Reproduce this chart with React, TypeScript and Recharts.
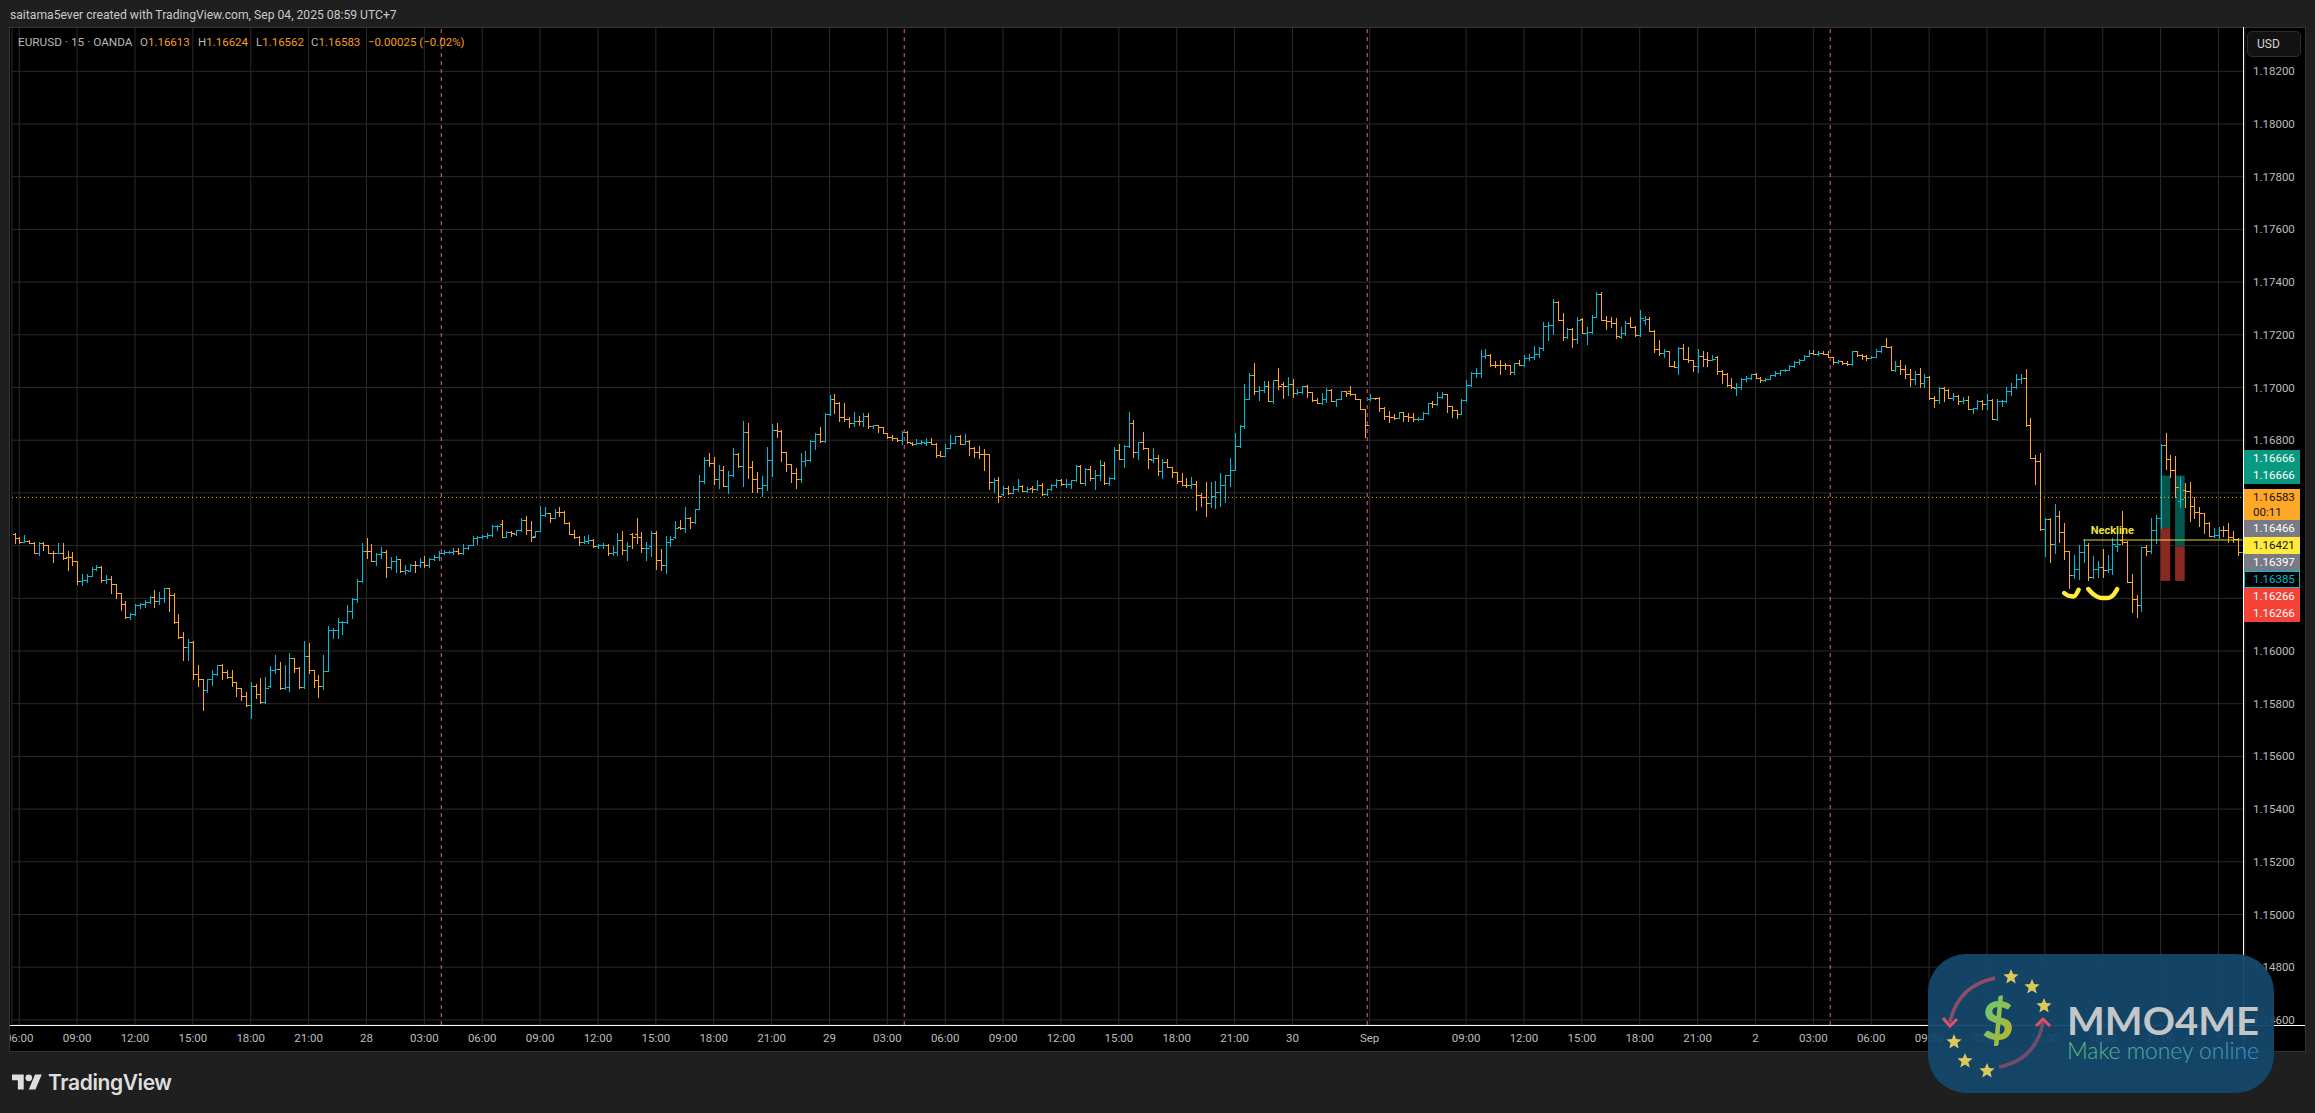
import React from 'react';
import { ComposedChart, Bar, Line, XAxis, YAxis, CartesianGrid, ReferenceLine, ReferenceArea, ReferenceDot } from 'recharts';

// All prices are points above 1.16000 (1 point = 0.00001)
const BASE_PRICE = 1.16;
const opens = [
445,430,415,416,411,373,411,402,373,371,373,358,357,340,264,268,284,312,318,268,273,253,219,177,128,140,175,177,186,205,189,200,238,212,109,53,16,36,-89,-106,
-149,-108,-89,-53,-81,-98,-118,-141,-170,-204,-132,-162,-194,-134,-71,-67,-142,-137,-27,-63,-138,-18,-72,-110,-133,-76,79,80,109,110,153,197,264,381,380,343,367,375,317,340,
348,304,304,327,326,336,327,351,355,373,376,377,378,370,391,404,430,434,435,439,474,481,433,452,443,459,499,460,437,455,517,523,506,528,527,484,443,434,414,419,
420,400,401,404,370,377,423,385,443,443,434,389,398,449,347,326,415,433,472,465,503,489,540,644,725,715,653,686,626,668,748,702,830,698,654,619,630,726,838,835,
754,708,677,654,720,725,798,823,796,899,955,943,889,882,864,874,872,891,852,857,849,828,811,808,799,832,789,786,790,790,793,787,744,741,772,791,815,787,798,772,
756,748,747,640,649,594,619,600,615,628,607,618,615,629,594,614,630,650,632,634,649,703,638,692,655,669,707,639,655,762,729,778,864,757,792,771,726,733,684,718,
699,680,645,631,630,633,591,583,562,590,604,629,669,688,777,855,958,1046,987,991,1007,947,1028,1012,1007,1015,978,981,1006,982,952,941,955,991,950,958,985,985,975,957,
917,957,961,961,924,892,889,885,907,890,887,879,882,902,942,936,965,975,929,913,900,951,1009,1055,1056,1118,1124,1087,1087,1086,1085,1059,1093,1085,1111,1115,1126,1148,1235,1236,
1326,1257,1192,1223,1184,1260,1207,1212,1269,1354,1257,1251,1246,1191,1207,1246,1231,1198,1258,1260,1216,1147,1130,1138,1081,1079,1148,1109,1103,1081,1121,1110,1106,1116,1064,1053,1008,999,1001,1033,
1035,1052,1037,1027,1033,1046,1056,1065,1067,1080,1096,1106,1121,1131,1129,1131,1129,1115,1095,1099,1094,1088,1137,1125,1121,1113,1116,1137,1158,1154,1067,1081,1069,1050,1033,1050,1016,1041,959,954,
998,991,962,968,948,953,918,921,950,938,954,879,947,948,987,1000,1032,1035,857,731,722,463,501,406,513,450,380,288,312,377,402,282,312,320,307,310,398,421,413,262,
197,173,393,380,461,503,782,727,687,570,610,608,550,527,522,487,437,439,461,459,434,424,377];
const highs = [
449,431,439,423,412,415,415,403,379,409,409,379,375,341,292,294,319,328,321,288,284,254,220,189,143,177,181,194,207,231,223,238,239,219,141,72,45,38,-55,-105,
-107,-71,-52,-48,-71,-72,-117,-140,-156,-117,-127,-101,-97,-58,-14,-42,-55,-8,-25,-62,39,30,-71,-93,-14,94,88,124,112,173,200,275,410,428,407,370,396,382,355,360,
349,326,329,343,352,360,353,366,380,385,380,389,389,405,404,438,435,439,449,477,477,499,457,454,460,503,511,492,457,552,545,524,540,548,532,491,460,435,438,442,
424,406,411,405,398,447,454,414,449,503,450,414,454,457,386,435,437,492,496,547,509,540,668,736,751,736,707,702,684,771,751,873,865,722,681,665,774,862,865,839,
756,711,696,752,759,799,826,849,902,971,975,946,940,887,906,893,902,903,858,858,850,829,820,810,835,833,793,805,801,808,808,788,759,786,819,816,820,824,799,776,
777,767,748,657,662,628,628,626,653,629,621,626,649,638,616,633,651,653,653,650,705,704,694,702,685,724,719,660,775,785,781,906,877,794,831,772,770,744,728,728,
700,681,675,656,660,645,600,643,643,645,675,669,733,828,856,1012,1054,1092,1005,1024,1024,1030,1073,1020,1039,1033,996,1007,1011,983,961,978,997,994,958,987,987,1007,976,958,
918,976,962,963,927,909,899,908,908,903,904,887,906,943,948,982,982,976,931,915,958,1030,1058,1074,1141,1145,1127,1099,1106,1092,1087,1094,1106,1123,1129,1159,1155,1248,1248,1335,
1329,1282,1227,1225,1267,1264,1230,1274,1364,1364,1270,1266,1264,1230,1251,1269,1232,1295,1270,1267,1217,1181,1147,1139,1100,1154,1165,1155,1104,1147,1138,1135,1125,1121,1065,1054,1035,1018,1036,1043,
1053,1056,1040,1036,1047,1062,1067,1069,1084,1100,1108,1124,1144,1142,1140,1138,1138,1116,1104,1100,1100,1140,1139,1129,1125,1119,1147,1159,1186,1157,1099,1103,1084,1069,1061,1075,1053,1043,968,1001,
1001,996,978,973,963,968,924,952,952,977,955,958,953,1003,1016,1053,1050,1069,883,744,750,503,506,558,532,487,381,364,402,424,408,360,343,386,364,427,465,531,418,291,
212,396,402,503,516,784,826,744,739,661,636,640,585,548,523,488,465,472,475,484,456,427,386];
const lows = [
410,411,412,410,372,365,382,372,337,370,350,308,327,255,251,263,284,307,263,257,221,201,157,127,122,137,163,168,182,168,180,185,150,108,51,-35,-33,-105,-133,-225,
-154,-128,-92,-105,-102,-133,-169,-186,-209,-254,-177,-196,-196,-136,-83,-146,-146,-152,-78,-141,-142,-84,-138,-176,-146,-73,48,51,65,105,126,187,260,352,340,326,353,280,311,300,
299,293,302,301,319,317,318,347,345,367,371,367,367,368,387,403,405,429,428,437,458,433,431,437,442,455,443,418,434,454,514,489,504,514,484,443,429,403,411,411,
395,390,389,364,365,366,367,346,390,409,374,346,361,311,306,297,399,430,462,452,467,484,537,638,701,632,620,625,599,665,697,628,658,605,605,590,610,665,811,720,
683,640,618,640,703,722,767,795,795,896,904,871,873,850,854,857,854,848,847,830,826,810,801,796,784,790,780,785,785,782,784,738,739,740,771,791,785,785,745,736,
731,686,613,603,565,592,595,598,606,606,605,605,610,592,591,612,621,629,621,619,646,636,631,650,616,650,635,631,653,728,699,776,738,729,767,694,719,668,655,698,
660,638,631,621,617,534,549,512,546,542,549,565,625,685,775,848,955,975,953,984,947,940,996,961,971,963,975,979,963,950,940,938,946,948,931,957,968,971,957,917,
814,952,958,912,879,870,879,883,874,873,873,877,879,899,926,933,961,908,888,884,899,950,1007,1040,1040,1112,1083,1078,1051,1072,1053,1050,1084,1083,1106,1109,1114,1144,1179,1203,
1255,1181,1187,1155,1169,1207,1164,1207,1266,1256,1223,1230,1189,1187,1198,1230,1196,1196,1241,1215,1134,1125,1115,1080,1077,1053,1109,1096,1061,1060,1081,1081,1103,1051,1016,1006,999,970,996,1025,
1031,1035,1021,1025,1031,1045,1048,1064,1066,1079,1090,1104,1120,1129,1124,1128,1114,1089,1092,1090,1085,1084,1121,1109,1104,1111,1114,1134,1152,1066,1064,1052,1037,1006,1012,1002,1002,958,926,940,
949,960,953,939,940,918,904,919,920,920,880,876,930,945,970,998,1018,855,731,634,459,360,339,370,415,351,240,276,274,339,270,276,279,279,301,294,380,406,260,149,
130,153,364,370,408,465,689,661,585,547,547,494,503,474,446,436,434,427,436,415,415,364,355];
const closes = [
430,415,416,411,373,411,402,373,371,373,353,357,340,264,268,284,312,318,268,273,253,219,177,128,142,175,177,186,205,189,200,238,212,109,53,16,36,-89,-106,-149,
-108,-89,-53,-81,-98,-118,-141,-170,-204,-132,-162,-194,-140,-71,-67,-142,-137,-27,-63,-138,-18,-72,-110,-133,-76,79,80,109,110,153,197,264,381,380,343,367,375,317,340,348,
304,306,327,326,336,327,351,355,373,376,377,378,370,391,404,430,434,435,439,474,475,433,452,447,459,499,460,433,455,517,523,506,528,527,484,443,434,414,419,420,
400,401,404,370,377,423,385,398,434,434,389,392,449,347,326,415,426,468,465,503,489,540,644,725,715,653,686,626,668,748,702,830,698,654,619,630,726,838,835,754,
708,677,654,720,725,798,823,796,899,955,943,889,882,864,874,872,891,852,857,849,828,811,808,799,832,793,784,790,794,793,787,742,741,772,791,815,787,798,772,756,
746,747,640,649,590,619,600,615,628,607,616,615,629,594,614,630,650,632,634,649,703,638,692,655,669,707,639,655,762,729,778,864,757,792,771,729,733,684,718,699,
680,645,631,630,633,591,583,562,590,604,629,669,688,777,855,958,1046,987,991,1007,947,1028,1006,1007,1015,978,981,1006,982,952,941,955,991,950,958,985,980,975,957,917,
856,961,960,924,892,889,885,907,890,887,879,882,902,942,936,965,975,929,913,900,951,1009,1055,1056,1118,1124,1087,1084,1086,1085,1060,1093,1085,1111,1115,1126,1148,1235,1236,1326,
1257,1192,1223,1184,1257,1207,1212,1269,1354,1257,1251,1246,1194,1207,1246,1231,1198,1264,1260,1216,1147,1130,1138,1081,1079,1148,1109,1103,1081,1121,1110,1106,1110,1064,1053,1008,1001,1001,1033,1035,
1052,1037,1027,1033,1046,1056,1065,1067,1080,1096,1106,1121,1131,1129,1131,1129,1115,1095,1099,1094,1090,1137,1125,1121,1113,1116,1137,1158,1154,1067,1081,1069,1050,1033,1050,1016,1041,959,954,998,
991,962,968,948,953,920,921,950,938,954,881,947,948,987,1000,1033,1035,857,731,722,463,501,406,513,450,380,288,312,377,402,282,312,320,307,310,406,406,413,262,197,
173,393,380,461,503,782,727,687,623,578,608,550,527,522,487,437,439,461,459,434,424,377,385];

const tickBars = [1,13,25,37,49,61,73,85,97,109,121,133,145,157,169,181,193,205,217,229,241,253,265,281,301,313,325,337,349,361,373,385,397,409,421,433,445,457];
const tickNames = ['06:00','09:00','12:00','15:00','18:00','21:00','28','03:00','06:00','09:00','12:00','15:00','18:00','21:00','29','03:00','06:00','09:00','12:00','15:00','18:00','21:00','30','Sep','09:00','12:00','15:00','18:00','21:00','2','03:00','06:00','09:00','12:00','15:00','18:00','21:00','3'];
const priceTicks = [1.146,1.148,1.15,1.152,1.154,1.156,1.158,1.16,1.162,1.164,1.166,1.168,1.17,1.172,1.174,1.176,1.178,1.18,1.182];
const sessionBars = [89,185,281,377];
const lastPrice = 1.16583;
const necklinePrice = 1.16421;
const necklineBars = [429,462];
const necklineLabelBar = 435;
const necklineLabelPrice = 1.16459;
const smileLeftBars = [425,426,427,428];
const smileLeftPrices = [1.16220,1.16209,1.16207,1.16232];
const smileRightBars = [430,431,432,433,434,435,436];
const smileRightPrices = [1.16235,1.16216,1.16205,1.16201,1.16201,1.16209,1.16235];
const positionBoxes = [
  { from: 445, to: 447, entry: 1.16466, target: 1.16666, stop: 1.16266 },
  { from: 448, to: 450, entry: 1.16397, target: 1.16666, stop: 1.16266 },
];
const rows = opens.map((o, i) => {
  const sl = smileLeftBars.indexOf(i);
  const sr = smileRightBars.indexOf(i);
  return {
    bar: i,
    open: BASE_PRICE + o / 1e5,
    high: BASE_PRICE + highs[i] / 1e5,
    low: BASE_PRICE + lows[i] / 1e5,
    close: BASE_PRICE + closes[i] / 1e5,
    range: [BASE_PRICE + lows[i] / 1e5, BASE_PRICE + highs[i] / 1e5],
    smileL: sl >= 0 ? smileLeftPrices[sl] : null,
    smileR: sr >= 0 ? smileRightPrices[sr] : null,
  };
});

const UP = '#00bcd4';
const DOWN = '#ffa726';
const FONT = 'Roboto, "Noto Sans", sans-serif';

const OhlcBar = (p: any) => {
  const { x, y, width, height, payload: d } = p;
  if (!d) return null;
  const h = Math.abs(height);
  const top = height < 0 ? y + height : y;
  const k = h / Math.max(d.high - d.low, 1e-9);
  const cx = Math.round(x + width / 2) + 0.5;
  const oy = Math.round(top + (d.high - d.open) * k) + 0.5;
  const cy = Math.round(top + (d.high - d.close) * k) + 0.5;
  const c = d.close >= d.open ? UP : DOWN;
  return (
    <g stroke={c} strokeWidth={1} shapeRendering="crispEdges">
      <line x1={cx} x2={cx} y1={Math.round(top)} y2={Math.round(top + h) + 1} />
      <line x1={cx - 3} x2={cx} y1={oy} y2={oy} />
      <line x1={cx} x2={cx + 3} y1={cy} y2={cy} />
    </g>
  );
};

const insetBox = (fill: string) => (p: any) => (
  <rect x={p.x + 2.4} y={p.y} width={p.width - 4.8} height={p.height} fill={fill} />
);

const tags = [
  { text: '1.16666', bg: '#089981', fg: '#fff', h: 17 },
  { text: '1.16666', bg: '#089981', fg: '#fff', h: 17, gap: 5 },
  { text: '1.16583', sub: '00:11', bg: '#ffa726', fg: '#131313', h: 31, gap: 0 },
  { text: '1.16466', bg: '#787b86', fg: '#fff', h: 17 },
  { text: '1.16421', bg: '#ffeb3b', fg: '#131313', h: 17 },
  { text: '1.16397', bg: '#787b86', fg: '#fff', h: 17 },
  { text: '1.16385', bg: '#000', fg: '#00bcd4', h: 17, border: '#00bcd4' },
  { text: '1.16266', bg: '#f44336', fg: '#fff', h: 17 },
  { text: '1.16266', bg: '#f44336', fg: '#fff', h: 17 },
];

const legendParts = [
  { k: 'O', v: '1.16613', left: 140 },
  { k: 'H', v: '1.16624', left: 198 },
  { k: 'L', v: '1.16562', left: 256 },
  { k: 'C', v: '1.16583', left: 311 },
];

const stars = [[2011, 977], [2032, 987], [2044, 1006], [1954, 1042], [1965, 1061], [1987, 1071]];
const starPath = (cx: number, cy: number, r: number) => {
  const pts: string[] = [];
  for (let i = 0; i < 10; i++) {
    const a = -Math.PI / 2 + (i * Math.PI) / 5;
    const rr = i % 2 ? r * 0.45 : r;
    pts.push(`${(cx + rr * Math.cos(a)).toFixed(1)},${(cy + rr * Math.sin(a)).toFixed(1)}`);
  }
  return pts.join(' ');
};

export default function App() {
  return (
    <div style={{ position: 'absolute', left: 0, top: 0, width: 2315, height: 1113, background: '#1f1f1f', overflow: 'hidden', fontFamily: FONT }}>
      <div style={{ position: 'absolute', left: 10, top: 27, width: 2295, height: 1025, background: '#000' }} />
      <div style={{ position: 'absolute', left: 0, top: 0 }}>
        <ComposedChart width={2315} height={1113} data={rows} margin={{ top: 27, left: 12, right: 10, bottom: 61 }} barCategoryGap={0}>
          <CartesianGrid stroke="#2b2b2b" strokeWidth={1} />
          <XAxis dataKey="bar" type="category" scale="band" height={27} ticks={tickBars} interval={0} axisLine={false} tickLine={false} tickMargin={3}
            tickFormatter={(v: number) => tickNames[tickBars.indexOf(Number(v))] ?? ''}
            tick={{ fill: '#bdbdbd', fontSize: 11.5, fontFamily: FONT }} />
          <YAxis orientation="right" width={60} type="number" domain={[1.145806, 1.183681]} ticks={priceTicks} interval={0} axisLine={false} tickLine={false} tickMargin={2}
            tickFormatter={(v: number) => v.toFixed(5)}
            tick={{ fill: '#bdbdbd', fontSize: 11.5, fontFamily: FONT, textAnchor: 'start' }} />
          {positionBoxes.map((b, i) => (
            <ReferenceArea key={'t' + i} x1={b.from} x2={b.to} y1={b.entry} y2={b.target} stroke="none" shape={insetBox('#04574d')} />
          ))}
          {positionBoxes.map((b, i) => (
            <ReferenceArea key={'s' + i} x1={b.from} x2={b.to} y1={b.stop} y2={b.entry} stroke="none" shape={insetBox('#8a2822')} />
          ))}
          {sessionBars.map((b) => (
            <ReferenceLine key={b} x={b} position="start" stroke="#ee5a8a" strokeDasharray="4 4" strokeWidth={1} />
          ))}
          <ReferenceLine y={lastPrice} stroke="#ffa726" strokeDasharray="1 3" strokeWidth={1} />
          <Bar dataKey="range" isAnimationActive={false} shape={OhlcBar} />
          <ReferenceLine segment={[{ x: necklineBars[0], y: necklinePrice }, { x: necklineBars[1], y: necklinePrice }]} stroke="#ffeb3b" strokeOpacity={0.45} strokeWidth={2} />
          <ReferenceDot x={necklineLabelBar} y={necklineLabelPrice} r={0} stroke="none" fill="none"
            label={{ value: 'Neckline', position: 'center', fill: '#ebe43a', fontSize: 11, fontWeight: 700, fontFamily: FONT }} />
          <Line dataKey="smileL" type="monotone" stroke="#ffeb3b" strokeWidth={4.5} strokeLinecap="round" dot={false} isAnimationActive={false} connectNulls={false} />
          <Line dataKey="smileR" type="monotone" stroke="#ffeb3b" strokeWidth={4.5} strokeLinecap="round" dot={false} isAnimationActive={false} connectNulls={false} />
        </ComposedChart>
      </div>

      {/* frame */}
      <div style={{ position: 'absolute', left: 0, top: 27, width: 10, height: 1025, background: '#1f1f1f', borderRight: '1px solid #333', boxSizing: 'border-box' }} />
      <div style={{ position: 'absolute', left: 10, top: 27, width: 2295, height: 1, background: '#333' }} />
      <div style={{ position: 'absolute', left: 10, top: 1051, width: 2295, height: 1, background: '#333' }} />
      <div style={{ position: 'absolute', left: 2305, top: 27, width: 1, height: 1025, background: '#333' }} />
      <div style={{ position: 'absolute', left: 10, top: 1025, width: 2295, height: 1, background: '#fff' }} />
      <div style={{ position: 'absolute', left: 2243, top: 27, width: 1, height: 1025, background: '#fff' }} />

      {/* header */}
      <div style={{ position: 'absolute', left: 10, top: 7, fontSize: 12.15, color: '#c9c9c9', whiteSpace: 'nowrap', lineHeight: '16px' }}>
        saitama5ever created with TradingView.com, Sep 04, 2025 08:59 UTC+7
      </div>
      <div style={{ position: 'absolute', left: 18, top: 34, fontSize: 11.8, color: '#b8b8b8', whiteSpace: 'nowrap', lineHeight: '16px' }}>EURUSD · 15 · OANDA</div>
      {legendParts.map((p) => (
        <div key={p.k} style={{ position: 'absolute', left: p.left, top: 34, fontSize: 11.5, color: '#b8b8b8', whiteSpace: 'nowrap', lineHeight: '16px' }}>
          {p.k}<span style={{ color: '#f59e1f' }}>{p.v}</span>
        </div>
      ))}
      <div style={{ position: 'absolute', left: 368, top: 34, fontSize: 11.5, color: '#f59e1f', whiteSpace: 'nowrap', lineHeight: '16px' }}>−0.00025 (−0.02%)</div>

      {/* USD button */}
      <div style={{ position: 'absolute', left: 2247, top: 31, width: 54, height: 26, background: '#121212', border: '1px solid #2e2e2e', borderRadius: 5, boxSizing: 'border-box', color: '#d6d6d6', fontSize: 12, lineHeight: '24px', paddingLeft: 9 }}>USD</div>

      {/* price tags */}
      <div style={{ position: 'absolute', left: 2244, top: 450, width: 56 }}>
        {tags.map((t, i) => (
          <div key={i} style={{ height: t.h, marginBottom: t.gap ?? 0, background: t.bg, color: t.fg, fontSize: 11.5, boxSizing: 'border-box', border: t.border ? `1px solid ${t.border}` : 'none', paddingLeft: t.border ? 8 : 9, lineHeight: t.border ? '15px' : '17px' }}>
            {t.text}
            {t.sub ? <div style={{ lineHeight: '13px' }}>{t.sub}</div> : null}
          </div>
        ))}
      </div>

      {/* TradingView brand */}
      <svg style={{ position: 'absolute', left: 12, top: 1071 }} width={31} height={22} viewBox="0 0 37 26">
        <path d="M14 22H7V11H0V4h14v18zM28 22h-8l7.5-18h8L28 22z" fill="#dedede" />
        <circle cx={20} cy={8} r={4} fill="#dedede" />
      </svg>
      <div style={{ position: 'absolute', left: 48, top: 1069, fontSize: 21, fontWeight: 600, color: '#dedede', fontFamily: 'Inter, Roboto, sans-serif', lineHeight: '28px', letterSpacing: '-0.4px' }}>TradingView</div>

      {/* MMO4ME watermark */}
      <svg style={{ position: 'absolute', left: 0, top: 0, pointerEvents: 'none' }} width={2315} height={1113}>
        <defs>
          <linearGradient id="wmText" x1="0" x2="1" y1="0" y2="0">
            <stop offset="0" stopColor="#5fbb7d" />
            <stop offset="1" stopColor="#3f8fd0" />
          </linearGradient>
          <linearGradient id="wmDollar" x1="0" x2="1" y1="0" y2="1">
            <stop offset="0" stopColor="#57c98c" />
            <stop offset="1" stopColor="#c6b41a" />
          </linearGradient>
        </defs>
        <rect x={1928} y={954} width={346} height={139} rx={38} fill="#14486c" fillOpacity={0.95} />
        <path d="M1995 978 Q1958 986 1950 1022" fill="none" stroke="#c8506a" strokeOpacity={0.7} strokeWidth={3.5} />
        <path d="M1943 1018 L1950 1026 L1957 1019" fill="none" stroke="#e0506a" strokeWidth={3} />
        <path d="M1999 1067 Q2036 1060 2043 1022" fill="none" stroke="#c8506a" strokeOpacity={0.55} strokeWidth={3.5} />
        <path d="M2036 1026 L2043 1019 L2050 1026" fill="none" stroke="#e0506a" strokeWidth={3} />
        {stars.map(([x, y], i) => (
          <polygon key={i} points={starPath(x, y, 8)} fill="#dcc75a" />
        ))}
        <text x={1998} y={1040} textAnchor="middle" fontFamily="Lato, sans-serif" fontWeight={900} fontSize={54} fill="url(#wmDollar)">$</text>
        <text x={2067} y={1035} fontFamily="Lato, Inter, sans-serif" fontWeight={700} fontSize={38} textLength={192} lengthAdjust="spacingAndGlyphs" fill="#cfcfcf" fillOpacity={0.95}>MMO4ME</text>
        <text x={2067} y={1059} fontFamily="Lato, sans-serif" fontWeight={300} fontSize={23} textLength={192} lengthAdjust="spacingAndGlyphs" fill="url(#wmText)">Make money online</text>
      </svg>
    </div>
  );
}
